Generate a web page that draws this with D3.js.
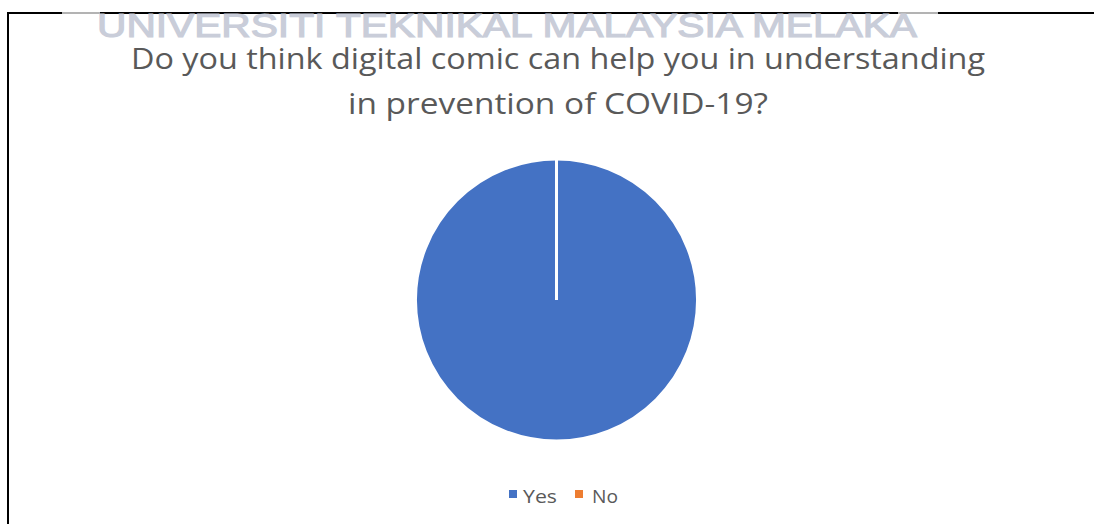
<!DOCTYPE html>
<html>
<head>
<meta charset="utf-8">
<script src="https://cdn.jsdelivr.net/npm/d3@7"></script>
<style>
  html, body { margin: 0; padding: 0; background: #fff; }
  svg { display: block; }
</style>
</head>
<body>
<svg id="chart" width="1094" height="524"></svg>
<script>
// Survey answers
const categories = ["Yes", "No"];
const values = [100, 0];
const colors = ["#4472C4", "#ED7D31"];
const titleLines = [
  "Do you think digital comic can help you in understanding",
  "in prevention of COVID-19?"
];
const watermark = "UNIVERSITI TEKNIKAL MALAYSIA MELAKA";

const svg = d3.select("#chart");

// Chart frame (top and left edges)
svg.append("line").attr("x1", 8).attr("y1", 13).attr("x2", 1094).attr("y2", 13)
  .attr("stroke", "#000").attr("stroke-width", 2);
svg.append("line").attr("x1", 8).attr("y1", 12).attr("x2", 8).attr("y2", 524)
  .attr("stroke", "#000").attr("stroke-width", 2);

// faded ends of the top edge behind the stamp
[[62, 38], [898, 40]].forEach(([x, w]) => {
  svg.append("rect").attr("x", x).attr("y", 10).attr("width", w).attr("height", 7)
    .attr("fill", "#fff").attr("opacity", 0.7);
});

// Stamp text
svg.append("text")
  .attr("x", 97).attr("y", 37)
  .attr("textLength", 820).attr("lengthAdjust", "spacingAndGlyphs")
  .attr("font-family", "Liberation Sans, Arial, sans-serif")
  .attr("font-size", 34)
  .attr("fill", "#c9cdd9")
  .attr("stroke", "#c9cdd9")
  .attr("stroke-width", 1.2)
  .text(watermark);

// Title
const titleSpec = [
  { x: 131, y: 69, w: 854 },
  { x: 348, y: 114, w: 420 }
];
titleLines.forEach((t, i) => {
  svg.append("text")
    .attr("x", titleSpec[i].x).attr("y", titleSpec[i].y)
    .attr("textLength", titleSpec[i].w).attr("lengthAdjust", "spacingAndGlyphs")
    .attr("font-family", "Open Sans, Liberation Sans, sans-serif")
    .attr("font-size", 30)
    .attr("fill", "#595959")
    .text(t);
});

// Pie
const cx = 556.5, cy = 300, r = 141;
const pie = d3.pie().sort(null).value(d => d.value);
const arc = d3.arc().innerRadius(0).outerRadius(r);
const data = categories.map((c, i) => ({ name: c, value: values[i], color: colors[i] }));

const g = svg.append("g").attr("transform", `translate(${cx},${cy})`);
g.selectAll("path")
  .data(pie(data))
  .join("path")
  .attr("d", arc)
  .attr("fill", d => d.data.color)
  .attr("stroke", "#fff")
  .attr("stroke-width", 3)
  .attr("stroke-linejoin", "miter");

// Legend
const legendItems = [
  { x: 509, tx: 523, w: 34 },
  { x: 575, tx: 592, w: 26 }
];
const lg = svg.append("g");
data.forEach((d, i) => {
  lg.append("rect")
    .attr("x", legendItems[i].x).attr("y", 490)
    .attr("width", 8).attr("height", 8)
    .attr("fill", d.color);
  lg.append("text")
    .attr("x", legendItems[i].tx).attr("y", 503)
    .attr("textLength", legendItems[i].w).attr("lengthAdjust", "spacingAndGlyphs")
    .attr("font-family", "Open Sans, Liberation Sans, sans-serif")
    .attr("font-size", 19)
    .attr("fill", "#595959")
    .text(d.name);
});
</script>
</body>
</html>
